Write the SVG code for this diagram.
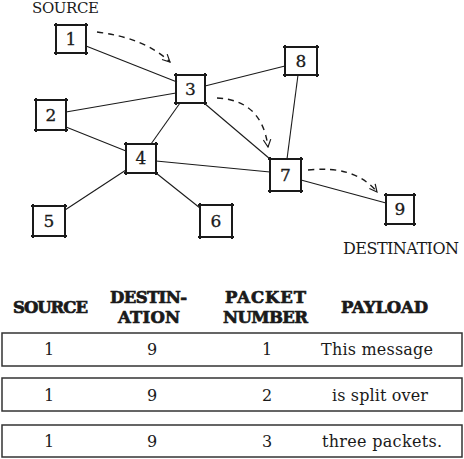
<svg xmlns="http://www.w3.org/2000/svg" width="464" height="459" viewBox="0 0 464 459">
<style>
.box{fill:none;stroke:#1a1a1a;stroke-width:2}
.num{font-family:"DejaVu Serif","Liberation Serif",serif;font-size:17px;fill:#1a1a1a;stroke:#1a1a1a;stroke-width:0.3;text-anchor:middle}
.lbl{font-family:"DejaVu Serif","Liberation Serif",serif;fill:#1a1a1a}
.edge{stroke:#1a1a1a;stroke-width:1.1;fill:none}
.hop{stroke:#1a1a1a;stroke-width:1.4;fill:none;stroke-dasharray:6 5;marker-end:url(#ah)}
.hdr{font-family:"DejaVu Serif","Liberation Serif",serif;font-weight:bold;font-size:16.5px;fill:#1a1a1a;stroke:#1a1a1a;stroke-width:0.7;text-anchor:middle}
.row{fill:#fff;stroke:#333;stroke-width:1.5}
.cell{font-family:"DejaVu Serif","Liberation Serif",serif;font-size:16px;fill:#1a1a1a;text-anchor:middle}
</style>
<defs>
<marker id="ah" viewBox="0 0 12 12" refX="11" refY="6" markerWidth="9" markerHeight="9" markerUnits="userSpaceOnUse" orient="auto">
<path d="M1,1 L11,6 L1,11" fill="none" stroke="#1a1a1a" stroke-width="1.6"/>
</marker>
</defs>
<rect width="464" height="459" fill="#fff"/>
<text class="lbl" x="32" y="12.5" font-size="15" textLength="67">SOURCE</text>
<text class="lbl" x="343" y="254" font-size="16" textLength="116">DESTINATION</text>
<g id="connectors">
<line class="edge" x1="86" y1="46" x2="177" y2="82"/>
<line class="edge" x1="66" y1="112" x2="176" y2="93"/>
<line class="edge" x1="66" y1="127" x2="126" y2="151"/>
<line class="edge" x1="180" y1="103" x2="151" y2="144"/>
<line class="edge" x1="204" y1="103" x2="270" y2="159"/>
<line class="edge" x1="205" y1="86" x2="285" y2="66"/>
<line class="edge" x1="298" y1="75" x2="287" y2="159"/>
<line class="edge" x1="156" y1="161" x2="270" y2="172"/>
<line class="edge" x1="126" y1="170" x2="65" y2="210"/>
<line class="edge" x1="156" y1="173" x2="200" y2="208"/>
<line class="edge" x1="301" y1="180" x2="386" y2="203"/>
<path class="hop" d="M97,32 Q145,38 170,62"/>
<path class="hop" d="M217,98 Q262,100 268,147"/>
<path class="hop" d="M308,170 Q355,165 377,192"/>
</g>
<g id="node1"><path class="box" d="M54,25H88M86,23V55M88,53H54M56,55V23"/><text class="num" x="71" y="45">1</text></g>
<g id="node2"><path class="box" d="M34,100H68M66,98V132M68,130H34M36,132V98"/><text class="num" x="51" y="121">2</text></g>
<g id="node3"><path class="box" d="M174,75H207M205,73V105M207,103H174M176,105V73"/><text class="num" x="190.5" y="95">3</text></g>
<g id="node4"><path class="box" d="M124,144H158M156,142V175M158,173H124M126,175V142"/><text class="num" x="141" y="164">4</text></g>
<g id="node5"><path class="box" d="M31,206H67M65,204V238M67,236H31M33,238V204"/><text class="num" x="49" y="227">5</text></g>
<g id="node6"><path class="box" d="M198,205H234M232,203V239M234,237H198M200,239V203"/><text class="num" x="216" y="227">6</text></g>
<g id="node7"><path class="box" d="M268,159H303M301,157V193M303,191H268M270,193V157"/><text class="num" x="285.5" y="181">7</text></g>
<g id="node8"><path class="box" d="M283,47H319M317,45V77M319,75H283M285,77V45"/><text class="num" x="301" y="67">8</text></g>
<g id="node9"><path class="box" d="M384,195H416M414,193V226M416,224H384M386,226V193"/><text class="num" x="400" y="215">9</text></g>
<g id="table">
<text class="hdr" x="50.5" y="313" textLength="75">SOURCE</text>
<text class="hdr" x="148.5" y="303" textLength="77">DESTIN-</text>
<text class="hdr" x="149" y="323" textLength="62">ATION</text>
<text class="hdr" x="265.5" y="303" textLength="81">PACKET</text>
<text class="hdr" x="265.5" y="323" textLength="85">NUMBER</text>
<text class="hdr" x="384.5" y="313" textLength="87">PAYLOAD</text>
<rect class="row" x="2" y="333" width="460" height="33"/>
<rect class="row" x="2" y="378" width="460" height="33"/>
<rect class="row" x="2" y="425" width="460" height="32"/>
<text class="cell" x="49" y="355">1</text><text class="cell" x="152" y="355">9</text><text class="cell" x="267" y="355">1</text><text class="cell" x="377" y="355" textLength="112">This message</text>
<text class="cell" x="49" y="401">1</text><text class="cell" x="152" y="401">9</text><text class="cell" x="267" y="401">2</text><text class="cell" x="380" y="401" textLength="96">is split over</text>
<text class="cell" x="49" y="447">1</text><text class="cell" x="152" y="447">9</text><text class="cell" x="267" y="447">3</text><text class="cell" x="382" y="447" textLength="120">three packets.</text>
</g>
</svg>
